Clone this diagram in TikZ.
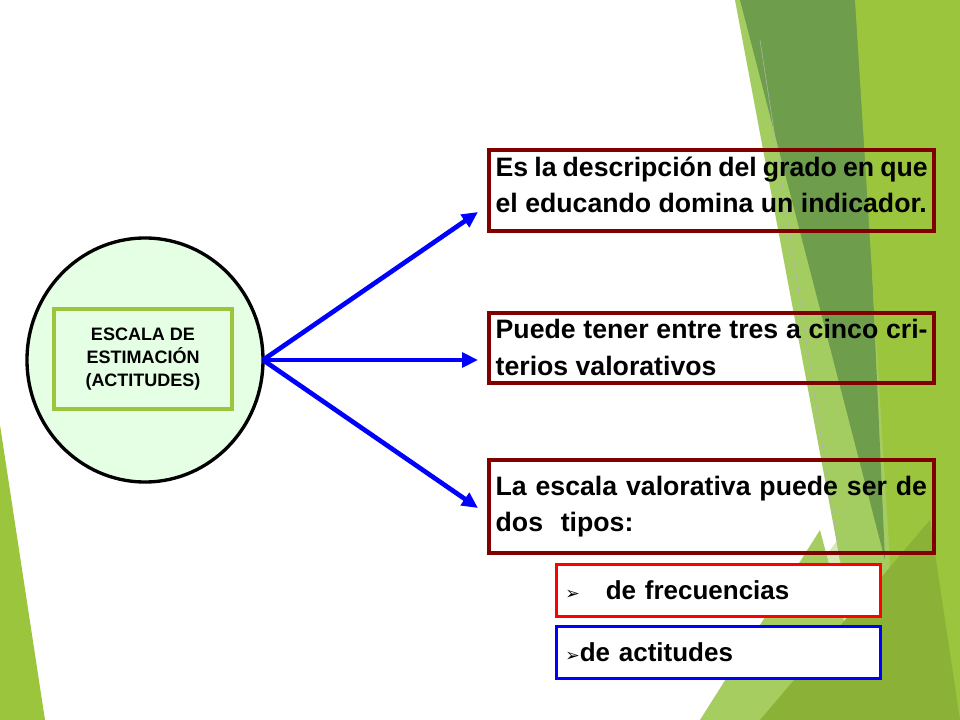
\documentclass[tikz,border=0pt]{standalone}
\usepackage{fontspec}
\setmainfont{Liberation Sans}
\usetikzlibrary{arrows.meta,shapes.geometric}
\definecolor{lg}{HTML}{9BC53D}
\definecolor{dg}{HTML}{6E9E4C}
\definecolor{mg}{HTML}{8DC03A}
\definecolor{pg}{HTML}{C8E09A}
\definecolor{maroon}{HTML}{800000}
\tikzset{
 txtbox/.style={draw=maroon,line width=3pt,anchor=north west,text width=#1,align=justify,inner sep=5pt,font=\bfseries\fontsize{20}{27.5}\selectfont,fill=none},
 optbox/.style={line width=2.5pt,fill=white,anchor=north west,minimum width=243pt,minimum height=39pt,font=\bfseries\fontsize{19.5}{24}\selectfont,align=left,text width=230pt,inner sep=4pt},
 arr/.style={blue,line width=3.5pt,-{Triangle[length=12pt,width=11pt]}}
}
\begin{document}
\begin{tikzpicture}[x=0.75pt,y=-0.75pt]
\useasboundingbox (0,0) rectangle (960,720);
\fill[white] (0,0) rectangle (960,720);
% background
\fill[lg] (0,425) -- (45,720) -- (0,720) -- cycle;
\fill[pg!70] (700,720) -- (960,380) -- (960,720) -- cycle;
\fill[mg!80] (735,0) -- (960,0) -- (960,720) -- (870,720) -- cycle;
\fill[dg] (740,0) -- (860,0) -- (885,560) -- cycle;
\fill[lg] (855,0) -- (960,0) -- (960,720) -- (880,720) -- (890,560) -- cycle;
\fill[mg!60!pg] (700,720) -- (820,530) -- (870,720) -- cycle;
\fill[lg!90!black] (760,720) -- (930,520) -- (960,720) -- cycle;
\draw[gray!60,line width=0.4pt] (760,40) -- (840,560);
% main
\node[draw,line width=2.5pt,ellipse,fill=green!10,minimum width=177pt,minimum height=183pt,inner sep=0pt] (c) at (145,360) {};
\node[draw=lg,line width=3pt,fill=green!10,minimum width=134pt,minimum height=75pt,align=center,font=\bfseries\fontsize{13.5}{17}\selectfont] (t) at (143,359) {ESCALA DE\\ESTIMACIÓN\\(ACTITUDES)};
\node[txtbox=324pt] (a) at (487,148) {Es la descripción del grado en que el educando domina un indicador.\strut};
\node[txtbox=324pt] (b) at (487,311) {Puede tener entre tres a cinco criterios valorativos};
\node[txtbox=324pt,align=left,minimum height=70pt] (d) at (487,458) {La escala valorativa puede ser de dos\ \ tipos:};
\node[optbox,draw=red] (f) at (555,563) {\fontspec{DejaVu Sans}\fontsize{13}{13}\selectfont➢\ \ \ \bfseries\fontspec{Liberation Sans}\fontsize{19.5}{24}\selectfont de frecuencias};
\node[optbox,draw=blue] (g) at (555,625) {\fontspec{DejaVu Sans}\fontsize{13}{13}\selectfont➢\bfseries\fontspec{Liberation Sans}\fontsize{19.5}{24}\selectfont de actitudes};
\coordinate (o) at (263,360);
\draw[arr] (o) -- (478,212);
\draw[arr] (o) -- (478,360);
\draw[arr] (o) -- (478,508);
\end{tikzpicture}
\end{document}
